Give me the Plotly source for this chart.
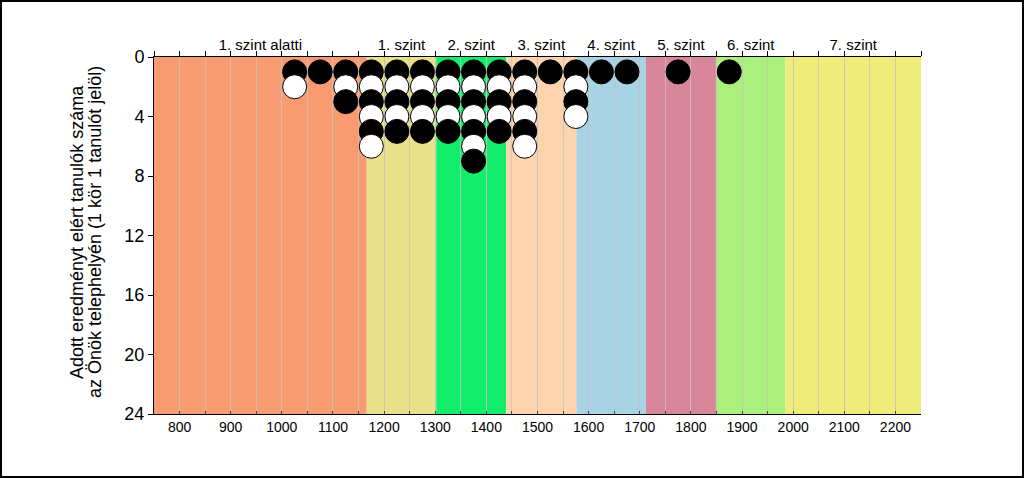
import plotly.graph_objects as go

# Data
bin_centers = [1025, 1075, 1125, 1175, 1225, 1275, 1325, 1375, 1425, 1475, 1525, 1575, 1625, 1675, 1775, 1875]
student_counts = [2, 1, 3, 6, 5, 5, 5, 7, 5, 6, 1, 4, 1, 1, 1, 1]

level_labels = ["1. szint alatti", "1. szint", "2. szint", "3. szint", "4. szint", "5. szint", "6. szint", "7. szint"]
level_bounds = [750, 1166, 1302, 1439, 1576, 1712, 1849, 1985, 2250]
level_colors = ["#F99B70", "#E9E08A", "#12EE6C", "#FDD4AE", "#A8D3E4", "#D8879B", "#ABEF7C", "#EFEC7A"]

x_ticks = list(range(800, 2201, 100))
y_ticks = [0, 4, 8, 12, 16, 20, 24]
y_title_lines = ["Adott eredményt elért tanulók száma", "az Önök telephelyén (1 kör 1 tanulót jelöl)"]

W, H = 1024, 478
ML, MR, MT, MB = 154, 103, 57, 64
PW, PH = W - ML - MR, H - MT - MB

# Build points: rows 1..count per bin, alternating black/white
xs, ys, cols = [], [], []
for xc, n in zip(bin_centers, student_counts):
    for k in range(1, n + 1):
        xs.append(xc)
        ys.append(k)
        cols.append("black" if k % 2 == 1 else "white")

fig = go.Figure()
fig.add_trace(go.Scatter(
    x=xs, y=ys, mode="markers",
    marker=dict(size=24, color=cols, line=dict(color="black", width=1)),
    hoverinfo="skip", showlegend=False,
))

centers = [(a + b) / 2 for a, b in zip(level_bounds[:-1], level_bounds[1:])]
fig.add_trace(go.Scatter(
    x=centers, y=[None] * len(centers), xaxis="x2", mode="markers",
    hoverinfo="skip", showlegend=False,
))

shapes = []
for a, b, c in zip(level_bounds[:-1], level_bounds[1:], level_colors):
    shapes.append(dict(type="rect", xref="x", yref="paper", x0=a, x1=b, y0=0, y1=1,
                       fillcolor=c, line=dict(width=0), layer="below"))
# outer frame
shapes.append(dict(type="rect", xref="paper", yref="paper",
                   x0=-(ML - 1) / PW, x1=1 + (MR - 1) / PW,
                   y0=-(MB - 1) / PH, y1=1 + (MT - 1) / PH,
                   line=dict(color="black", width=2), fillcolor="rgba(0,0,0,0)"))

font = "Liberation Sans, Arial, sans-serif"
grid_col = "rgba(195,195,195,0.75)"

annotations = []
for i, (txt, px) in enumerate(zip(y_title_lines, [77, 95])):
    annotations.append(dict(text=txt, xref="paper", yref="paper",
                            x=(px - ML) / PW, y=(H - MB - 232) / PH,
                            xanchor="center", yanchor="middle", textangle=-90,
                            showarrow=False, font=dict(size=18, color="black")))

fig.update_layout(
    width=W, height=H,
    margin=dict(l=ML, r=MR, t=MT, b=MB),
    paper_bgcolor="white", plot_bgcolor="white",
    font=dict(family=font, size=14, color="black"),
    shapes=shapes,
    annotations=annotations,
    xaxis=dict(
        range=[750, 2250], tickmode="array", tickvals=x_ticks,
        ticks="inside", ticklen=3, tickcolor="#444",
        showline=True, linecolor="black", linewidth=1,
        showgrid=True, gridcolor=grid_col, gridwidth=1,
        minor=dict(tickmode="linear", tick0=750, dtick=50, ticks="inside", ticklen=3,
                   tickcolor="#444", showgrid=True, gridcolor=grid_col, gridwidth=1),
        tickfont=dict(size=14), zeroline=False,
    ),
    xaxis2=dict(
        range=[750, 2250], overlaying="x", side="top", anchor="y",
        tickmode="array", tickvals=centers, ticktext=level_labels, ticks="",
        showline=True, linecolor="black", linewidth=1, showgrid=False,
        minor=dict(tickmode="linear", tick0=750, dtick=50, ticks="outside", ticklen=5,
                   tickcolor="black", showgrid=False),
        tickfont=dict(size=15), zeroline=False,
    ),
    yaxis=dict(
        range=[24, 0], tickmode="array", tickvals=y_ticks,
        ticks="outside", ticklen=5, tickcolor="black",
        showline=True, linecolor="black", linewidth=1,
        showgrid=False, zeroline=False, tickfont=dict(size=18),
    ),
)

fig.write_html("out.html", config={"displayModeBar": False},
               post_script="document.body.style.margin='0';document.documentElement.style.overflow='hidden';")
